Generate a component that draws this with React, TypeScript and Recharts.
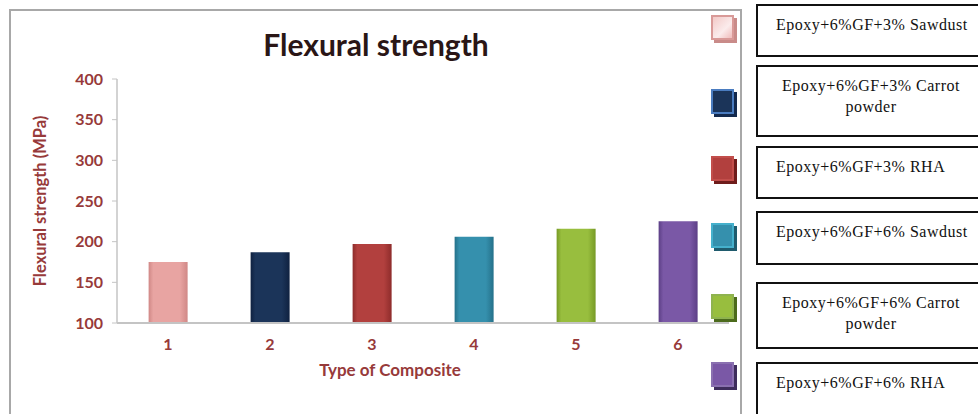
import { BarChart, Bar, XAxis, YAxis, Cell } from "recharts";

const categories = ["1", "2", "3", "4", "5", "6"];
const strength = [175, 187, 197, 206, 216, 225];
const yTicks = [100, 150, 200, 250, 300, 350, 400];
const seriesNames = [
  ["Epoxy+6%GF+3% Sawdust"],
  ["Epoxy+6%GF+3% Carrot", "powder"],
  ["Epoxy+6%GF+3% RHA"],
  ["Epoxy+6%GF+6% Sawdust"],
  ["Epoxy+6%GF+6% Carrot", "powder"],
  ["Epoxy+6%GF+6% RHA"],
];

const barColors = ["#e8a4a2", "#1b3459", "#b2403e", "#3590ad", "#98be3e", "#7a58a6"];
const darkColors = ["#d08886", "#0f2140", "#8e2c2b", "#25718a", "#779a26", "#5c3f86"];
const edgeColors = ["#d99a98", "#4a7cc0", "#c24e4b", "#45b0cc", "#8fb34f", "#8a70b0"];
const shadowColors = ["#c98b89", "#13294d", "#6e1c1b", "#1f5b6d", "#4c6b1c", "#3e2d5c"];

// legend layout (boxes drawn as in the source figure)
const boxes = [
  { top: 4, height: 53, markerTop: 15 },
  { top: 65, height: 72, markerTop: 89 },
  { top: 146, height: 53, markerTop: 156 },
  { top: 211, height: 54, markerTop: 223 },
  { top: 282, height: 67, markerTop: 294 },
  { top: 362, height: 70, markerTop: 362 },
];

const data = categories.map((c, i) => ({ name: c, value: strength[i] }));

const maroon = "#973a3a";
const sans = "Lato, 'Open Sans', sans-serif";

const YLabel = (props: any) => {
  const vb = props.viewBox;
  const cx = 40;
  const cy = vb.y + vb.height / 2;
  return (
    <text
      x={cx}
      y={cy}
      transform={`rotate(-90 ${cx} ${cy})`}
      textAnchor="middle"
      dominantBaseline="central"
      fill={maroon}
      fontFamily={sans}
      fontWeight={700}
      fontSize={16.5}
    >
      Flexural strength (MPa)
    </text>
  );
};

export default function App() {
  return (
    <div
      style={{
        position: "absolute",
        left: 0,
        top: 0,
        width: 978,
        height: 414,
        overflow: "hidden",
        background: "#fff",
      }}
    >
      <div
        style={{
          position: "absolute",
          left: 9,
          top: 9,
          width: 733,
          height: 430,
          border: "2px solid #a8a8a8",
          boxSizing: "border-box",
        }}
      />
      <div
        style={{
          position: "absolute",
          left: 176,
          width: 400,
          top: 26,
          textAlign: "center",
          fontFamily: sans,
          fontWeight: 700,
          fontSize: 30,
          color: "#2a1616",
        }}
      >
        Flexural strength
      </div>
      <div style={{ position: "absolute", left: 0, top: 0 }}>
        <BarChart
          width={978}
          height={414}
          data={data}
          margin={{ top: 79, right: 249, left: 57, bottom: 61 }}
          barCategoryGap="31%"
        >
          <defs>
            {barColors.map((c, i) => (
              <linearGradient key={i} id={`g${i}`} x1="0" y1="0" x2="1" y2="0">
                <stop offset="0%" stopColor={darkColors[i]} />
                <stop offset="12%" stopColor={c} />
                <stop offset="80%" stopColor={c} />
                <stop offset="100%" stopColor={darkColors[i]} />
              </linearGradient>
            ))}
          </defs>
          <XAxis
            dataKey="name"
            height={30}
            axisLine={{ stroke: "#c4c4c4", strokeWidth: 2 }}
            tickLine={false}
            tick={{ fill: maroon, fontFamily: sans, fontWeight: 700, fontSize: 16 }}
            tickMargin={10}
            label={{
              value: "Type of Composite",
              position: "bottom",
              offset: 11,
              dx: -33,
              fill: maroon,
              fontFamily: sans,
              fontWeight: 700,
              fontSize: 17,
            }}
          />
          <YAxis
            width={60}
            domain={[100, 400]}
            ticks={yTicks}
            interval={0}
            allowDataOverflow
            axisLine={{ stroke: "#c4c4c4", strokeWidth: 1.5 }}
            tickLine={{ stroke: "#c4c4c4" }}
            tickSize={5}
            tickMargin={9}
            tick={{ fill: maroon, fontFamily: sans, fontWeight: 700, fontSize: 16 }}
            label={<YLabel />}
          />
          <Bar dataKey="value" isAnimationActive={false}>
            {data.map((_, i) => (
              <Cell key={i} fill={`url(#g${i})`} />
            ))}
          </Bar>
        </BarChart>
      </div>
      {seriesNames.map((lines, i) => (
        <div key={i}>
          <div
            style={{
              position: "absolute",
              left: 714,
              top: boxes[i].markerTop + 3,
              width: 23,
              height: 25,
              background: shadowColors[i],
            }}
          />
          <div
            style={{
              position: "absolute",
              left: 711,
              top: boxes[i].markerTop,
              width: 23,
              height: 25,
              boxSizing: "border-box",
              border: `2px solid ${edgeColors[i]}`,
              background:
                i === 0
                  ? "linear-gradient(135deg, #f3c9c7 0%, #fbecec 60%, #f0bcbb 100%)"
                  : barColors[i],
            }}
          />
          <div
            style={{
              position: "absolute",
              left: 756,
              top: boxes[i].top,
              width: 240,
              height: boxes[i].height,
              border: "2px solid #111",
              boxSizing: "border-box",
              fontFamily: "'Liberation Serif', 'Times New Roman', serif",
              fontSize: 16,
              letterSpacing: 0.5,
              lineHeight: "21px",
              color: "#111",
              paddingTop: 8,
              paddingLeft: lines.length > 1 ? 0 : 18,
              textAlign: lines.length > 1 ? "center" : "left",
            }}
          >
            {lines.length > 1 ? (
              <div style={{ width: 226 }}>
                {lines.map((l) => (
                  <div key={l}>{l}</div>
                ))}
              </div>
            ) : (
              lines[0]
            )}
          </div>
        </div>
      ))}
    </div>
  );
}
